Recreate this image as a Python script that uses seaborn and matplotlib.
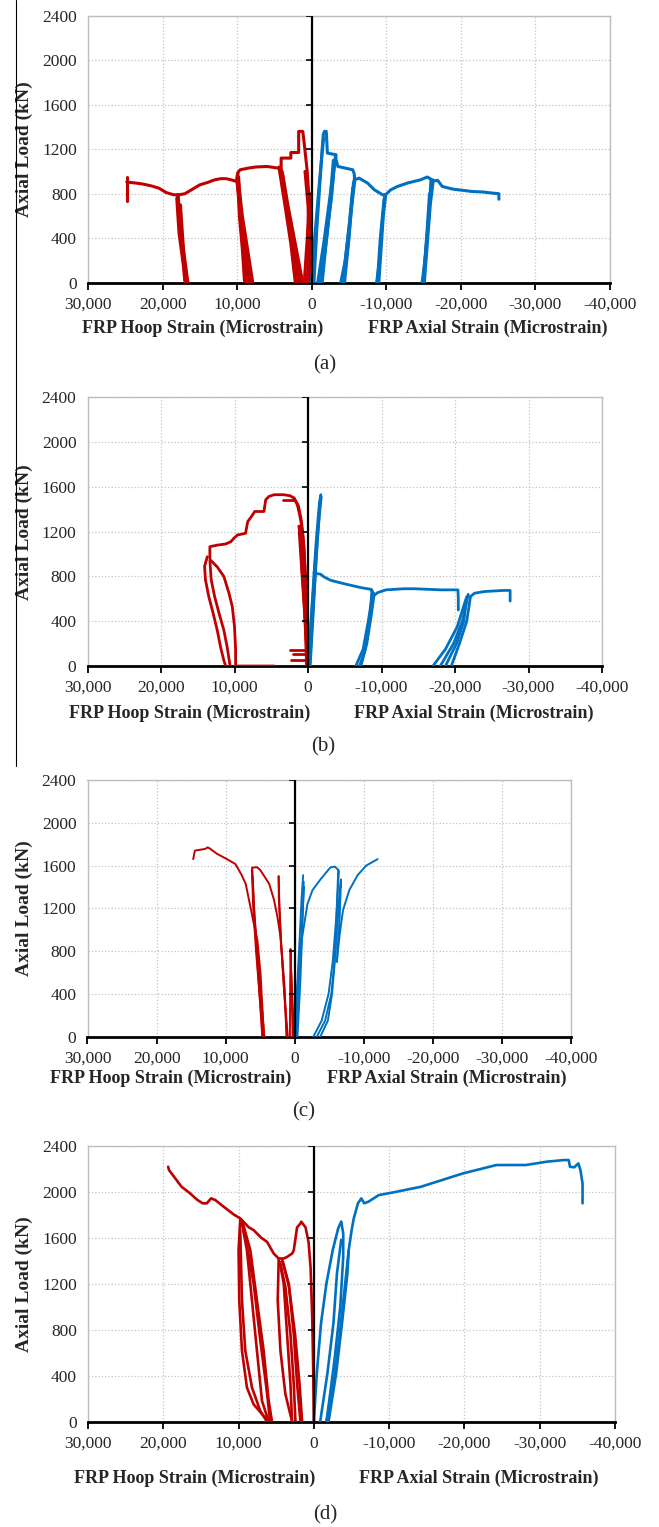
import numpy as np
import pandas as pd
import matplotlib
matplotlib.use("Agg")
import matplotlib.pyplot as plt
from matplotlib.lines import Line2D
import seaborn as sns

nan = np.nan

# ---------------- shared axis data ----------------
x_ticks = [30000, 20000, 10000, 0, -10000, -20000, -30000, -40000]
y_ticks = [0, 400, 800, 1200, 1600, 2000, 2400]
panel_tags = ["(a)", "(b)", "(c)", "(d)"]
hoop_label = "FRP Hoop Strain (Microstrain)"
axial_label = "FRP Axial Strain (Microstrain)"
y_label = "Axial Load (kN)"

# ---------------- panel (a) ----------------
a_hoop_x = [0, 100, 300, 600, 1000, 1200, 1750, 1750, 2800, 2800, 4100, 4100, 4500, 5000, 6000, 7500, 8500, 9600, 9900, 10000, 10100, 10800, 11500, 12200, 13000, 14000, 15000, 16000, 17000, 17800, 18500, 19500, 20500, 21500, 22500, 23500, 24800, nan,
            24800, 24800, nan,
            600, 400, 200, 50, nan,
            200, 300, 500, 900, nan,
            1000, 600, 300, nan,
            4100, 3400, 2600, 1900, nan,
            1700, 2500, 3300, 4000, nan,
            4400, 3600, 2800, 2200, nan,
            1300, 2300, 3300, 4200, nan,
            4000, 3300, 2500, 1500, nan,
            1200, 2200, 3200, 3900, nan,
            9900, 9700, 9300, 9000, nan,
            8800, 9200, 9600, 10000, nan,
            10000, 9500, 8900, 8300, nan,
            7900, 8600, 9300, 9900, nan,
            9800, 9400, 8700, 8100, nan,
            8500, 9000, 9500, 9950, nan,
            17900, 17700, 17300, 16800, nan,
            16600, 17100, 17600, 18000, nan,
            18100, 17800, 17200, 17000, nan,
            16900, 17400, 17800, 18000, nan,
            17600, 17300, 17000, 16700]
a_hoop_y = [0, 300, 700, 1000, 1250, 1360, 1360, 1170, 1170, 1120, 1120, 1040, 1030, 1035, 1045, 1040, 1030, 1015, 990, 960, 910, 925, 935, 935, 925, 900, 880, 840, 800, 790, 790, 810, 850, 870, 885, 895, 905, nan,
            950, 730, nan,
            0, 300, 600, 800, nan,
            0, 300, 700, 1000, nan,
            0, 400, 800, nan,
            1030, 700, 350, 0, nan,
            0, 350, 700, 1000, nan,
            1040, 700, 350, 0, nan,
            0, 350, 700, 1030, nan,
            1000, 650, 300, 0, nan,
            0, 350, 700, 980, nan,
            980, 600, 300, 0, nan,
            0, 300, 600, 900, nan,
            930, 600, 300, 0, nan,
            0, 300, 600, 950, nan,
            950, 500, 150, 0, nan,
            0, 300, 650, 920, nan,
            790, 500, 250, 0, nan,
            0, 250, 500, 780, nan,
            760, 450, 150, 0, nan,
            0, 300, 600, 790, nan,
            700, 400, 100, 0]
a_axial_x = [-300, -700, -1100, -1400, -1550, -1700, -1950, -2000, -2100, -3250, -3250, -3500, -4500, -5500, -5700, -5750, -6350, -7500, -8400, -9500, -9900, -10600, -11500, -12800, -14600, -15500, -16000, -16500, -16900, -17500, -19000, -20300, -21500, -23000, -24300, -25100, -25100, nan,
             0, -400, -900, -1300, -1600, nan,
             -3200, -2500, -1700, -1000, nan,
             -800, -1600, -2400, -3100, nan,
             -2900, -2300, -1700, -1400, nan,
             -1200, -2000, -2700, -3000, nan,
             -5700, -5100, -4500, -3900, nan,
             -4200, -4800, -5300, -5800, nan,
             -4400, -5000, -5600, nan,
             -5500, -5000, -4400, -4100, nan,
             -9800, -9400, -9100, -8700, nan,
             -9000, -9300, -9600, -9900, nan,
             -8800, -9200, -9700, nan,
             -16000, -15600, -15200, -14800, nan,
             -15100, -15500, -15900, -16300, nan,
             -14900, -15300, -15700, nan,
             -15800, -15400, -15000]
a_axial_y = [0, 500, 900, 1200, 1330, 1360, 1360, 1300, 1165, 1150, 1110, 1045, 1030, 1015, 980, 925, 940, 895, 835, 790, 790, 835, 865, 895, 925, 950, 930, 915, 920, 865, 840, 830, 820, 815, 805, 800, 750, nan,
             0, 400, 800, 1100, 1300, nan,
             1150, 700, 300, 0, nan,
             0, 350, 750, 1100, nan,
             1100, 600, 200, 0, nan,
             0, 400, 800, 1050, nan,
             930, 550, 200, 0, nan,
             0, 300, 650, 930, nan,
             0, 400, 900, nan,
             850, 500, 150, 0, nan,
             790, 500, 200, 0, nan,
             0, 300, 600, 780, nan,
             0, 400, 750, nan,
             925, 500, 200, 0, nan,
             0, 350, 700, 920, nan,
             0, 300, 600, nan,
             800, 400, 0]

# ---------------- panel (b) ----------------
b_hoop_x = [0, 150, 350, 600, 900, 1300, 1900, 2400, 3300, 4600, 5300, 5750, 6000, 7250, 7700, 8200, 8500, 9600, 10100, 10500, 11200, 12300, 13350, 13350, nan,
            13700, 14070, 13950, 13500, 12900, 12350, 11900, 11450, 11200, nan,
            13350, 13170, 12700, 12100, 11450, 11000, 10600, nan,
            13250, 12350, 11450, 10750, 10300, 10000, 9850, 9850, 4600, nan,
            1900, 1450, 1090, 770, 545, 320, 180, 90, nan,
            3350, 1900, nan,
            100, 300, 600, 900, 1250, nan,
            1200, 900, 600, 300, 0, nan,
            800, 600, 400, 200, nan,
            1000, 800, 500, 250, 100, nan,
            50, 250, 500, 800, 1100, nan,
            2400, 300, nan,
            2000, 200, nan,
            2300, 100]
b_hoop_y = [0, 400, 800, 1100, 1300, 1430, 1500, 1520, 1530, 1530, 1515, 1485, 1380, 1380, 1335, 1290, 1185, 1170, 1140, 1110, 1090, 1080, 1066, 960, nan,
            976, 890, 770, 620, 470, 320, 170, 50, 0, nan,
            945, 770, 620, 470, 320, 170, 0, nan,
            945, 885, 800, 650, 530, 350, 150, 0, 0, nan,
            1500, 1440, 1335, 1215, 1065, 765, 410, 0, nan,
            1480, 1480, nan,
            0, 400, 800, 1100, 1250, nan,
            1200, 900, 600, 300, 0, nan,
            1000, 700, 400, 0, nan,
            1150, 850, 550, 250, 0, nan,
            0, 350, 700, 1000, 1250, nan,
            140, 140, nan,
            110, 110, nan,
            50, 50]
b_axial_x = [-100, -400, -800, -1100, -1350, -1550, -1750, nan,
             -300, -600, -900, -1250, -1550, -1800, nan,
             -1700, -1400, -1000, -600, -200, nan,
             -50, -350, -700, -1000, -1300, nan,
             -800, -1700, -2200, -3100, -4900, -7200, -8550, -8750, -9100, -9450, -10600, -13100, -14450, -18100, -20400, -20450, -20450, nan,
             -8700, -8400, -7800, -7000, nan,
             -6500, -7500, -8200, -8800, nan,
             -7200, -8000, -8600, -9000, nan,
             -21600, -21200, -20200, -18700, nan,
             -17000, -18700, -20300, -21500, nan,
             -19500, -20600, -21600, -22100, nan,
             -18000, -19800, -21000, -21800, nan,
             -22100, -22650, -24000, -26600, -27500, -27500]
b_axial_y = [0, 400, 800, 1100, 1300, 1450, 1530, nan,
             0, 350, 700, 1100, 1350, 1510, nan,
             1520, 1250, 850, 400, 0, nan,
             0, 300, 650, 950, 1200, nan,
             830, 820, 795, 765, 735, 700, 685, 665, 635, 655, 680, 690, 690, 680, 680, 600, 500, nan,
             680, 400, 150, 0, nan,
             0, 150, 400, 650, nan,
             0, 200, 450, 640, nan,
             620, 400, 200, 0, nan,
             0, 150, 350, 600, nan,
             0, 200, 400, 620, nan,
             0, 200, 400, 640, nan,
             620, 650, 665, 675, 675, 580]

# ---------------- panel (c) ----------------
c_hoop_x = [14700, 14450, 13000, 12600, 12300, 11250, 9800, 8600, 7750, 7100, 6400, 5900, 5400, 4950, 4450, nan,
            6200, 6000, 5600, 5100, 4600, nan,
            4400, 4900, 5400, 5900, 6150, nan,
            6100, 5800, 5300, 4700, nan,
            6150, 5500, 5000, 4300, 3700, 3000, 2500, 2100, 1800, 1450, 1200, nan,
            2330, 2200, 1900, 1500, 1100, nan,
            1000, 1500, 2000, 2300, 2330, nan,
            300, 450, 600, 650, 700, nan,
            100, 300, 500]
c_hoop_y = [1660, 1740, 1755, 1770, 1760, 1710, 1660, 1615, 1520, 1430, 1210, 1050, 900, 590, 0, nan,
            1560, 1200, 800, 400, 0, nan,
            0, 400, 800, 1200, 1580, nan,
            1500, 1100, 600, 0, nan,
            1580, 1585, 1560, 1490, 1430, 1280, 1120, 950, 740, 450, 0, nan,
            1500, 1200, 800, 400, 0, nan,
            0, 400, 900, 1300, 1500, nan,
            0, 450, 820, 500, 0, nan,
            0, 300, 600]
c_axial_x = [0, -300, -700, -1000, -1220, nan,
             -1300, -1100, -800, -400, nan,
             -200, -600, -1000, -1350, nan,
             -300, -1000, -1840, -2570, -3780, -5170, -5800, -6300, nan,
             -6300, -6100, -5800, -5400, -4800, -3700, nan,
             -2700, -3900, -4900, -5500, -6000, -6400, nan,
             -3200, -4400, -5300, -5900, -6300, -6700, -6500, -6100, nan,
             -6100, -6500, -7000, -7900, -9100, -10350, -12000]
c_axial_y = [0, 400, 900, 1300, 1510, nan,
             1450, 1000, 500, 0, nan,
             0, 500, 1000, 1400, nan,
             400, 900, 1240, 1370, 1475, 1583, 1590, 1560, nan,
             1560, 1200, 700, 400, 150, 0, nan,
             0, 150, 400, 700, 1100, 1550, nan,
             0, 150, 400, 800, 1200, 1470, 1100, 700, nan,
             700, 950, 1185, 1370, 1510, 1600, 1660]

# ---------------- panel (d) ----------------
d_hoop_x = [0, 90, 220, 440, 700, 1100, 1670, 1780, 2230, 2670, 2890, 3560, 4000, 4670, 5330, 6220, 7000, 8000, 8640, 9780, 10600, 11990, 13100, 13660, 14220, 14780, 15500, 16450, 17570, 18570, 19240, 19350, nan,
            9780, 10000, 9910, 9550, 8890, 8000, 6670, 6000, nan,
            6000, 6890, 7560, 8220, 8890, 9550, nan,
            9780, 9550, 9110, 8220, 7110, 6220, nan,
            5560, 6000, 6670, 7560, 8440, 9550, nan,
            5800, 6310, 7110, 8000, 9330, nan,
            4670, 4800, 4440, 3780, 2890, nan,
            2890, 3110, 3560, 4000, 4530, nan,
            4220, 3330, 2670, 2220, 1780, nan,
            2440, 2670, 3110, 3780, 4440, nan,
            1560, 1900, 2500, 3300, 4100]
d_hoop_y = [0, 470, 910, 1345, 1560, 1690, 1739, 1724, 1690, 1490, 1462, 1433, 1419, 1419, 1462, 1564, 1600, 1666, 1690, 1768, 1800, 1870, 1928, 1942, 1899, 1899, 1930, 1986, 2043, 2130, 2188, 2217, nan,
            1754, 1491, 1055, 618, 297, 151, 50, 0, nan,
            0, 181, 618, 1055, 1491, 1724, nan,
            1666, 1055, 618, 297, 93, 0, nan,
            0, 181, 618, 1055, 1491, 1754, nan,
            0, 297, 705, 1200, 1695, nan,
            1419, 1055, 618, 239, 0, nan,
            0, 326, 763, 1200, 1390, nan,
            1404, 1200, 763, 326, 0, nan,
            0, 326, 763, 1171, 1375, nan,
            0, 326, 763, 1171, 1390]
d_axial_x = [0, -390, -950, -1670, -2510, -3230, -3630, nan,
             -3630, -3900, -3900, -3510, -2790, -2230, -1670, nan,
             -1670, -2510, -3350, -4070, -4630, -5020, -5300, -5860, -6300, -6690, -7250, -8640, -10320, -14220, -17010, -19800, -24260, -28160, -30950, -33180, -33850, -34020, -34580, -35130, -35410, -35690, -35690, nan,
             -4630, -4460, -3740, -2960, -1950, nan,
             -840, -1800, -2600, -3070, -3630]
d_axial_y = [0, 420, 855, 1203, 1493, 1681, 1739, nan,
             1739, 1638, 1435, 1000, 565, 275, 0, nan,
             0, 275, 710, 1145, 1493, 1667, 1768, 1899, 1942, 1899, 1913, 1971, 1991, 2043, 2101, 2159, 2232, 2232, 2261, 2275, 2275, 2217, 2212, 2246, 2188, 2072, 1899, nan,
             1493, 1290, 855, 420, 0, nan,
             0, 420, 855, 1290, 1580]

RED = "#C00000"
BLUE = "#0070C0"

W, H = 659, 1527


def frame(xs, ys):
    x = np.asarray(xs, float)
    y = np.asarray(ys, float)
    assert len(x) == len(y), (len(x), len(y))
    seg = np.cumsum(np.isnan(x))
    m = ~np.isnan(x)
    return pd.DataFrame({"strain": x[m], "load": y[m], "seg": seg[m]})


sns.set_theme(style="white")
plt.rcParams["font.family"] = ["Liberation Serif", "DejaVu Serif"]

fig = plt.figure(figsize=(W / 100, H / 100), dpi=100)

panels = [
    dict(box=(88, 610, 15.7, 282.7), lw=2.2, hoop=(a_hoop_x, a_hoop_y), axial=(a_axial_x, a_axial_y),
         lab=(203, 488, 328, 325, 365)),
    dict(box=(87.5, 602, 397.3, 666), lw=2.0, hoop=(b_hoop_x, b_hoop_y), axial=(b_axial_x, b_axial_y),
         lab=(190, 474, 713, 323, 747)),
    dict(box=(87.5, 571, 780, 1036.7), lw=1.4, hoop=(c_hoop_x, c_hoop_y), axial=(c_axial_x, c_axial_y),
         lab=(171, 447, 1078, 304, 1112)),
    dict(box=(88, 615, 1145.7, 1421.7), lw=1.9, hoop=(d_hoop_x, d_hoop_y), axial=(d_axial_x, d_axial_y),
         lab=(195, 479, 1478, 325, 1515)),
]

for tag, p in zip(panel_tags, panels):
    l, r, t, b = p["box"]
    ax = fig.add_axes([l / W, 1 - b / H, (r - l) / W, (b - t) / H])
    ax.grid(True, color="#c4c4c4", ls=":", lw=0.9)
    ax.set_axisbelow(True)

    sns.lineplot(data=frame(*p["hoop"]), x="strain", y="load", units="seg", estimator=None,
                 sort=False, color=RED, lw=p["lw"], ax=ax, legend=False, zorder=2.6)
    sns.lineplot(data=frame(*p["axial"]), x="strain", y="load", units="seg", estimator=None,
                 sort=False, color=BLUE, lw=p["lw"], ax=ax, legend=False, zorder=2.6)

    ax.axvline(0, color="black", lw=1.6, zorder=3)
    ax.plot([0] * (len(y_ticks) - 1), y_ticks[1:], ls="none", marker=0, ms=4, mew=1.2,
            color="black", zorder=3)

    ax.set_xlim(x_ticks[0], x_ticks[-1])
    ax.set_ylim(y_ticks[0], y_ticks[-1])
    ax.set_xticks(x_ticks)
    ax.set_xticklabels([f"{v:,}" for v in x_ticks])
    ax.set_yticks(y_ticks)
    ax.set_yticklabels([str(v) for v in y_ticks])
    ax.tick_params(axis="x", direction="out", length=5, width=1.3, color="black",
                   labelsize=12.5, pad=5, bottom=True)
    ax.tick_params(axis="y", length=0, labelsize=12.5, pad=8)
    for s in ("top", "right", "left"):
        ax.spines[s].set_color("#bdbdbd")
        ax.spines[s].set_linewidth(1.0)
    ax.spines["bottom"].set_color("black")
    ax.spines["bottom"].set_linewidth(2.0)
    ax.spines["bottom"].set_zorder(2.5)

    ax.set_xlabel("")
    ax.set_ylabel(y_label, fontsize=14, fontweight="bold")
    ax.yaxis.set_label_coords((33 - l) / (r - l), 0.5)

    hx, axx, ly, tx, ty = p["lab"]
    fig.text(hx / W, 1 - ly / H, hoop_label, ha="center", va="center", fontsize=13, fontweight="bold")
    fig.text(axx / W, 1 - ly / H, axial_label, ha="center", va="center", fontsize=13, fontweight="bold")
    fig.text(tx / W, 1 - ty / H, tag, ha="center", va="center", fontsize=15)

# thin vertical rule at the left edge of the upper part of the page
fig.add_artist(Line2D([15.5 / W, 15.5 / W], [1.0, 1 - 766 / H], color="black", lw=0.8))

fig.savefig("out.png", dpi=100, facecolor="white")
